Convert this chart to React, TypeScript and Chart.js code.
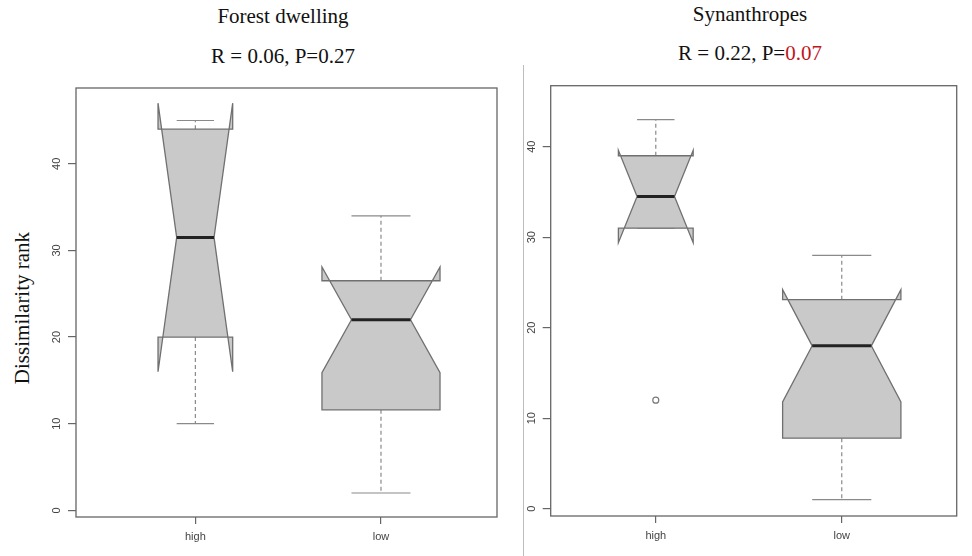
import React, { useEffect, useRef } from 'react';
import { Chart, registerables } from 'chart.js';

Chart.register(...registerables);

// ---------- data ----------
const groupLabels = ['high', 'low'];
const groupSizes = [6, 15];
const yTickValues = [0, 10, 20, 30, 40];

const forestWhiskerLow = [10, 2];
const forestQ1 = [20, 11.6];
const forestMedian = [31.5, 22];
const forestQ3 = [44, 26.5];
const forestWhiskerHigh = [45, 34];
const forestNotchLow = [16.0, 15.9];
const forestNotchHigh = [47.0, 28.1];
const forestOutliers: number[][] = [[], []];

const synWhiskerLow = [31, 1];
const synQ1 = [31, 7.8];
const synMedian = [34.5, 18];
const synQ3 = [39, 23.1];
const synWhiskerHigh = [43, 28];
const synNotchLow = [29.4, 11.8];
const synNotchHigh = [39.6, 24.2];
const synOutliers: number[][] = [[12], []];

const forestTitle = 'Forest dwelling';
const forestStat = 'R = 0.06, P=0.27';
const synTitle = 'Synanthropes';
const synStatPrefix = 'R = 0.22, P=';
const synStatP = '0.07';
const yAxisTitle = 'Dissimilarity rank';

// ---------- styles ----------
const SANS = '"Liberation Sans", Arial, Helvetica, sans-serif';
const SERIF = '"Liberation Serif", "Times New Roman", Times, serif';
const BOX_HALF = 0.318;

type Stats = {
  wLo: number[]; q1: number[]; med: number[]; q3: number[]; wHi: number[];
  nLo: number[]; nHi: number[]; out: number[][];
};

function makeBoxPlugin(s: Stats) {
  return {
    id: 'notchedBoxes',
    beforeDatasetsDraw(chart: any) {
      const { ctx, chartArea, scales } = chart;
      const xs = scales.x;
      const ys = scales.y;
      const px = (v: number) => xs.getPixelForValue(v);
      const py = (v: number) => ys.getPixelForValue(v);
      const maxN = Math.max(...groupSizes);
      ctx.save();
      groupLabels.forEach((_, i) => {
        const c = i + 1;
        const hw = BOX_HALF * Math.sqrt(groupSizes[i] / maxN);
        const L = px(c - hw), R = px(c + hw);
        const NL = px(c - hw / 2), NR = px(c + hw / 2);
        const C = px(c);
        // whiskers
        ctx.strokeStyle = '#8a8a8a';
        ctx.lineWidth = 1.2;
        ctx.setLineDash([4, 3]);
        ctx.beginPath();
        ctx.moveTo(C, py(s.q3[i]));
        ctx.lineTo(C, py(s.wHi[i]));
        ctx.moveTo(C, py(s.q1[i]));
        ctx.lineTo(C, py(s.wLo[i]));
        ctx.stroke();
        ctx.setLineDash([]);
        ctx.beginPath();
        ctx.moveTo(NL, py(s.wHi[i]));
        ctx.lineTo(NR, py(s.wHi[i]));
        ctx.moveTo(NL, py(s.wLo[i]));
        ctx.lineTo(NR, py(s.wLo[i]));
        ctx.stroke();
        // notched box
        ctx.beginPath();
        ctx.moveTo(L, py(s.q1[i]));
        ctx.lineTo(L, py(s.nLo[i]));
        ctx.lineTo(NL, py(s.med[i]));
        ctx.lineTo(L, py(s.nHi[i]));
        ctx.lineTo(L, py(s.q3[i]));
        ctx.lineTo(R, py(s.q3[i]));
        ctx.lineTo(R, py(s.nHi[i]));
        ctx.lineTo(NR, py(s.med[i]));
        ctx.lineTo(R, py(s.nLo[i]));
        ctx.lineTo(R, py(s.q1[i]));
        ctx.closePath();
        ctx.fillStyle = '#c9c9c9';
        ctx.fill();
        ctx.strokeStyle = '#707070';
        ctx.lineWidth = 1.3;
        ctx.lineJoin = 'miter';
        ctx.stroke();
        // median
        ctx.beginPath();
        ctx.moveTo(NL, py(s.med[i]));
        ctx.lineTo(NR, py(s.med[i]));
        ctx.strokeStyle = '#222';
        ctx.lineWidth = 3;
        ctx.stroke();
      });
      // frame
      ctx.strokeStyle = '#666';
      ctx.lineWidth = 1.3;
      ctx.strokeRect(chartArea.left, chartArea.top, chartArea.right - chartArea.left, chartArea.bottom - chartArea.top);
      ctx.restore();
    },
  };
}

type PanelProps = {
  stats: Stats;
  xMin: number; xMax: number; yMin: number; yMax: number;
  padding: { left: number; right: number; top: number; bottom: number };
  style: React.CSSProperties;
};

function Panel({ stats, xMin, xMax, yMin, yMax, padding, style }: PanelProps) {
  const ref = useRef<HTMLCanvasElement | null>(null);
  useEffect(() => {
    if (!ref.current) return;
    const outlierPoints = stats.out.flatMap((vals, i) => vals.map((v) => ({ x: i + 1, y: v })));
    const chart = new Chart(ref.current, {
      type: 'scatter',
      data: {
        datasets: [
          {
            data: outlierPoints,
            pointRadius: 3,
            pointBorderColor: '#7a7a7a',
            pointBackgroundColor: 'rgba(0,0,0,0)',
            pointBorderWidth: 1.2,
            showLine: false,
          },
        ],
      },
      options: {
        responsive: true,
        maintainAspectRatio: false,
        animation: false,
        layout: { padding },
        plugins: {
          legend: { display: false },
          tooltip: { enabled: false },
          title: { display: false },
        },
        scales: {
          x: {
            type: 'linear',
            min: xMin,
            max: xMax,
            afterBuildTicks: (s: any) => {
              s.ticks = groupLabels.map((_, i) => ({ value: i + 1 }));
            },
            afterFit: (s: any) => {
              s.height = 30;
            },
            ticks: {
              autoSkip: false,
              maxRotation: 0,
              minRotation: 0,
              padding: 6,
              color: '#444',
              font: { family: SANS, size: 11 },
              callback: (v: any) => groupLabels[Math.round(Number(v)) - 1] ?? '',
            },
            grid: { display: true, drawOnChartArea: false, drawTicks: true, tickLength: 7, color: '#666', lineWidth: 1.2 },
            border: { display: false },
          },
          y: {
            type: 'linear',
            min: yMin,
            max: yMax,
            afterBuildTicks: (s: any) => {
              s.ticks = yTickValues.map((v) => ({ value: v }));
            },
            afterFit: (s: any) => {
              s.width = 24;
            },
            ticks: {
              minRotation: 90,
              maxRotation: 90,
              crossAlign: 'center',
              padding: 5,
              color: '#444',
              font: { family: SANS, size: 11 },
              callback: (v: any) => String(v),
            },
            grid: { display: true, drawOnChartArea: false, drawTicks: true, tickLength: 8, color: '#666', lineWidth: 1.2 },
            border: { display: false },
          },
        },
      },
      plugins: [makeBoxPlugin(stats)],
    } as any);
    return () => chart.destroy();
  }, []);
  return (
    <div style={{ position: 'absolute', ...style }}>
      <canvas ref={ref} />
    </div>
  );
}

const titleStyle: React.CSSProperties = {
  position: 'absolute',
  width: 400,
  textAlign: 'center',
  fontFamily: SERIF,
  fontSize: 21,
  lineHeight: '21px',
  color: '#111',
  whiteSpace: 'nowrap',
};

export default function App() {
  const forestStats: Stats = {
    wLo: forestWhiskerLow, q1: forestQ1, med: forestMedian, q3: forestQ3, wHi: forestWhiskerHigh,
    nLo: forestNotchLow, nHi: forestNotchHigh, out: forestOutliers,
  };
  const synStats: Stats = {
    wLo: synWhiskerLow, q1: synQ1, med: synMedian, q3: synQ3, wHi: synWhiskerHigh,
    nLo: synNotchLow, nHi: synNotchHigh, out: synOutliers,
  };
  return (
    <div style={{ position: 'absolute', left: 0, top: 0, width: 972, height: 556, background: '#fff', overflow: 'hidden' }}>
      <div style={{ ...titleStyle, left: 283 - 200, top: 6 }}>{forestTitle}</div>
      <div style={{ ...titleStyle, left: 283 - 200, top: 46 }}>{forestStat}</div>
      <div style={{ ...titleStyle, left: 750 - 200, top: 4 }}>{synTitle}</div>
      <div style={{ ...titleStyle, left: 750 - 200, top: 43 }}>
        {synStatPrefix}
        <span style={{ color: '#c0161b' }}>{synStatP}</span>
      </div>
      <div
        style={{
          position: 'absolute',
          left: 22 - 150,
          top: 308 - 12,
          width: 300,
          height: 24,
          lineHeight: '24px',
          textAlign: 'center',
          fontFamily: SERIF,
          fontSize: 21,
          color: '#111',
          transform: 'rotate(-90deg)',
          transformOrigin: '50% 50%',
          whiteSpace: 'nowrap',
        }}
      >
        {yAxisTitle}
      </div>
      <div style={{ position: 'absolute', left: 523, top: 65, width: 1, height: 491, background: '#bdbdbd' }} />
      <Panel
        stats={forestStats}
        xMin={0.357}
        xMax={2.625}
        yMin={-0.77}
        yMax={48.75}
        padding={{ left: 52, right: 23, top: 88, bottom: 9 }}
        style={{ left: 0, top: 0, width: 520, height: 556 }}
      />
      <Panel
        stats={synStats}
        xMin={0.435}
        xMax={2.618}
        yMin={-0.8}
        yMax={46.74}
        padding={{ left: 2.7, right: 15.3, top: 85.7, bottom: 10 }}
        style={{ left: 524, top: 0, width: 448, height: 556 }}
      />
    </div>
  );
}
